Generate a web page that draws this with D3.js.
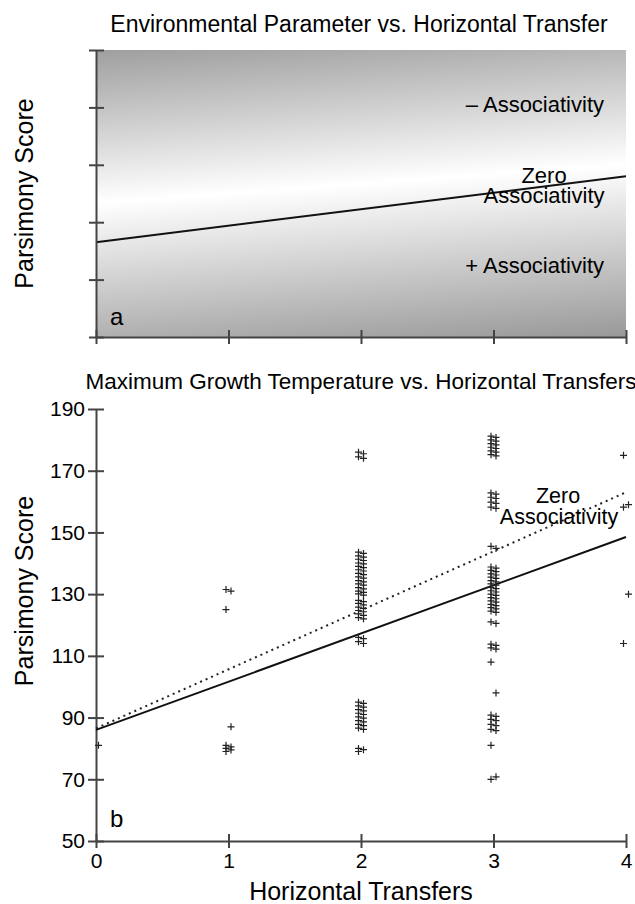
<!DOCTYPE html>
<html>
<head>
<meta charset="utf-8">
<script src="https://cdn.jsdelivr.net/npm/d3@7"></script>
<style>
  body { margin: 0; background: #fff; }
  text { font-family: "Liberation Sans", Arial, Helvetica, sans-serif; fill: #000; }
</style>
</head>
<body>
<div id="chart"></div>
<script>
// ---- data ----
const transfers = [0, 1, 2, 3, 4];
const scoreTicks = [50, 70, 90, 110, 130, 150, 170, 190];
const schematicTicks = [0, 1, 2, 3, 4, 5];

// parsimony scores, one list per number of transfers
const scoresAt0 = [81];
const scoresAt1 = [131.5, 131, 125, 87, 81, 80.5, 80, 79.5, 79];
const scoresAt2 = [176, 175.5, 174.5, 174,
  143.6, 143.2, 142.4, 142, 141.3, 140.9, 140.1, 139.8, 139, 138.6, 137.9, 137.5, 136.7, 136.3,
  135.6, 135.2, 134.4, 134, 133.3, 132.9, 132.1, 131.7, 131, 130.6, 130.1, 129.7,
  128, 127.6, 127, 126.5, 125.8, 125.4, 124.7, 124.3, 123.6, 123.1, 122.4, 122,
  116, 115.6, 114.6, 114,
  95, 94.6, 93.8, 93.4, 92.6, 92.2, 91.4, 91, 90.2, 89.8, 89, 88.6, 87.8, 87.4, 86.6, 86.2,
  80, 79.6, 79];
const scoresAt3 = [181.2, 180.8, 180, 179.6, 178.8, 178.4, 177.6, 177.2, 176.4, 176, 175.2, 174.8,
  162.8, 162.4, 161.4, 161, 159.8, 159.4, 158.2, 157.8,
  145.5, 144.8,
  138.8, 138.4, 137.7, 137.3, 136.6, 136.2, 135.5, 135.1, 134.4, 134, 133.3, 132.9, 132.2, 131.8,
  131.1, 130.7, 130, 129.6, 128.9, 128.5, 127.8, 127.4, 126.7, 126.3, 125.6, 125.2, 124.5, 124.1,
  121, 120.5, 113.8, 113.4, 112.6, 112.2, 108, 98,
  90.8, 90.4, 89.4, 89, 87.8, 87.4, 86.2, 85.8,
  81, 70.8, 70];
const scoresAt4 = [175, 159, 158.2, 130, 114];

// fitted line and zero-associativity line (panel b), [transfers, score]
const fitLine = [[0, 86], [4, 148.5]];
const zeroLine = [[0, 86.5], [4, 163]];
// schematic zero-associativity line (panel a), arbitrary units
const schematicLine = [[0, 1.65], [4, 2.8]];

// ---- layout ----
const W = 635, H = 904;
const left = 96, right = 626;
const aTop = 50, aBottom = 337;
const bTop = 409, bBottom = 841;

const svg = d3.select("#chart").append("svg")
  .attr("width", W).attr("height", H);

const x = d3.scaleLinear().domain([0, 4]).range([left, right]);
const yA = d3.scaleLinear().domain([0, 5]).range([aBottom, aTop]);
const yB = d3.scaleLinear().domain([50, 190]).range([bBottom, bTop]);

// gradient for panel a
const grad = svg.append("defs").append("linearGradient")
  .attr("id", "shade")
  .attr("gradientUnits", "userSpaceOnUse")
  .attr("x1", 350).attr("y1", 30)
  .attr("x2", 374).attr("y2", 357);
grad.append("stop").attr("offset", 0).attr("stop-color", "#9e9e9e");
grad.append("stop").attr("offset", 0.47).attr("stop-color", "#ffffff");
grad.append("stop").attr("offset", 1).attr("stop-color", "#989898");

function styleAxis(g, side) {
  g.select(".domain").attr("stroke", "#444").attr("stroke-width", 2);
  g.selectAll(".tick line").attr("stroke", "#444").attr("stroke-width", 2);
  if (side === "left") g.selectAll(".tick line").attr("x1", 8);
  else g.selectAll(".tick line").attr("y1", -7);
  g.selectAll(".tick text").style("font-size", "21px").attr("fill", "#000")
    .style("font-family", "'Liberation Sans', Arial, sans-serif");
}

// ===== panel a =====
svg.append("rect")
  .attr("x", left).attr("y", aTop)
  .attr("width", right - left).attr("height", aBottom - aTop)
  .attr("fill", "url(#shade)");

svg.append("text")
  .attr("x", (left + right) / 2 - 2).attr("y", 32)
  .attr("text-anchor", "middle")
  .style("font-size", "23px")
  .text("Environmental Parameter vs. Horizontal Transfer");

const line = d3.line();

svg.append("path")
  .attr("d", line(schematicLine.map(d => [x(d[0]), yA(d[1])])))
  .attr("stroke", "#111").attr("stroke-width", 2).attr("fill", "none");

svg.append("g").attr("transform", "translate(" + left + ",0)")
  .call(d3.axisLeft(yA).tickValues(schematicTicks).tickSize(7).tickSizeOuter(0).tickFormat(""))
  .call(g => styleAxis(g, "left"));
svg.append("g").attr("transform", "translate(0," + aBottom + ")")
  .call(d3.axisBottom(x).tickValues(transfers).tickSize(7).tickSizeOuter(0).tickFormat(""))
  .call(g => styleAxis(g, "bottom"));

svg.append("text").attr("x", 604).attr("y", 112).attr("text-anchor", "end")
  .style("font-size", "22px").text("\u2013 Associativity");
svg.append("text").attr("x", 544).attr("y", 183).attr("text-anchor", "middle")
  .style("font-size", "22px").text("Zero");
svg.append("text").attr("x", 544).attr("y", 203).attr("text-anchor", "middle")
  .style("font-size", "22px").text("Associativity");
svg.append("text").attr("x", 604).attr("y", 273).attr("text-anchor", "end")
  .style("font-size", "22px").text("+ Associativity");
svg.append("text").attr("x", 110).attr("y", 325)
  .style("font-size", "24px").text("a");

svg.append("text")
  .attr("transform", "translate(33," + ((aTop + aBottom) / 2) + ") rotate(-90)")
  .attr("text-anchor", "middle")
  .style("font-size", "25px")
  .text("Parsimony Score");

// ===== panel b =====
svg.append("text")
  .attr("x", (left + right) / 2).attr("y", 389)
  .attr("text-anchor", "middle")
  .style("font-size", "22.5px")
  .text("Maximum Growth Temperature vs. Horizontal Transfers");

svg.append("g").attr("transform", "translate(" + left + ",0)")
  .call(d3.axisLeft(yB).tickValues(scoreTicks).tickSize(8).tickSizeOuter(0).tickPadding(3))
  .call(g => styleAxis(g, "left"));
svg.append("g").attr("transform", "translate(0," + bBottom + ")")
  .call(d3.axisBottom(x).tickValues(transfers).tickSize(7).tickSizeOuter(0).tickPadding(5)
    .tickFormat(d3.format("d")))
  .call(g => styleAxis(g, "bottom"));

svg.append("path")
  .attr("d", line(zeroLine.map(d => [x(d[0]), yB(d[1])])))
  .attr("stroke", "#222").attr("stroke-width", 2).attr("fill", "none")
  .attr("stroke-dasharray", "2,4");
svg.append("path")
  .attr("d", line(fitLine.map(d => [x(d[0]), yB(d[1])])))
  .attr("stroke", "#111").attr("stroke-width", 2).attr("fill", "none");

// scatter: crosses, alternating into two thin columns at each x
const groups = [scoresAt0, scoresAt1, scoresAt2, scoresAt3, scoresAt4];
const points = [];
groups.forEach((vals, gi) => {
  vals.forEach((v, i) => points.push({t: transfers[gi], s: v, side: vals.length === 1 ? 1 : (i % 2 ? 1 : -1)}));
});

svg.append("g").selectAll("path")
  .data(points)
  .enter()
  .append("path")
    .attr("transform", d => "translate(" + (x(d.t) + d.side * 2.5) + "," + yB(d.s) + ")")
    .attr("d", "M-3.5,0H3.5M0,-3.5V3.5")
    .attr("stroke", "#222").attr("stroke-width", 1.2);

svg.append("text").attr("x", 558).attr("y", 503).attr("text-anchor", "middle")
  .style("font-size", "21.5px").text("Zero");
svg.append("text").attr("x", 559).attr("y", 524).attr("text-anchor", "middle")
  .style("font-size", "21.5px").text("Associativity");
svg.append("text").attr("x", 110).attr("y", 827)
  .style("font-size", "24px").text("b");

svg.append("text")
  .attr("transform", "translate(33,591) rotate(-90)")
  .attr("text-anchor", "middle")
  .style("font-size", "25px")
  .text("Parsimony Score");

svg.append("text")
  .attr("x", (left + right) / 2).attr("y", 900)
  .attr("text-anchor", "middle")
  .style("font-size", "25px")
  .text("Horizontal Transfers");
</script>
</body>
</html>
